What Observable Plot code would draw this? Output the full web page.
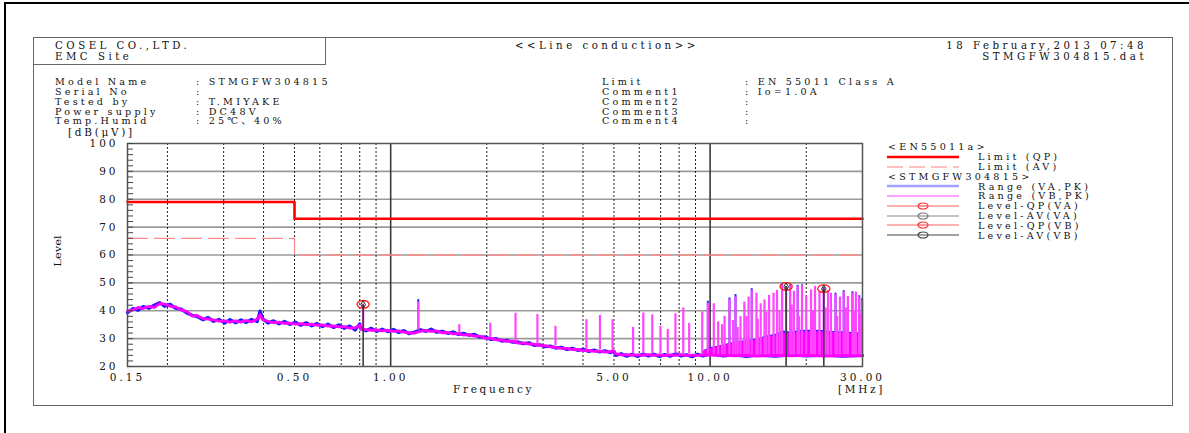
<!DOCTYPE html>
<html><head><meta charset="utf-8">
<script src="https://cdn.jsdelivr.net/npm/d3@7"></script>
<script src="https://cdn.jsdelivr.net/npm/@observablehq/plot@0.6"></script>
<style>
html,body{margin:0;padding:0;background:#fff;}
#page{position:relative;width:1189px;height:433px;overflow:hidden;font-family:"DejaVu Serif","Noto Sans CJK JP",serif;color:#111;}
#outer{position:absolute;left:4px;top:2px;width:1300px;height:600px;border:2px solid #000;}
#inner{position:absolute;left:33px;top:37px;width:1138px;height:367px;border:1px solid #666;}
#cobox{position:absolute;left:33px;top:37px;width:292px;height:27px;border-right:1px solid #666;border-bottom:1px solid #666;}
.t{position:absolute;white-space:pre;line-height:10px;font-size:10.5px;letter-spacing:2.7px;}
.h{font-size:10.2px;line-height:10px;letter-spacing:3.5px;}
.s{font-size:9.6px;line-height:9.4px;letter-spacing:3.2px;}
svg.plot{position:absolute;left:0;top:0;}
</style></head>
<body><div id="page">
<div id="outer"></div><div id="inner"></div><div id="cobox"></div>
<div class="t h" style="left:55px;top:40.5px">COSEL CO.,LTD.</div>
<div class="t h" style="left:55px;top:52px">EMC Site</div>
<div class="t h" style="left:515px;top:40.5px">&lt;&lt;Line conduction&gt;&gt;</div>
<div class="t h" style="right:42px;top:40.5px;text-align:right">18 February,2013 07:48</div>
<div class="t h" style="right:42px;top:52px;text-align:right">STMGFW304815.dat</div>
<div id="info"></div>
<div class="t" style="left:68px;top:127px">[dB(μV)]</div>
<div class="t" style="left:38px;top:246px;width:40px;text-align:center;letter-spacing:0;font-size:11.5px;transform:rotate(-90deg) scaleY(0.8)">Level</div>
<div class="t" style="left:453px;top:384px">Frequency</div>
<div class="t" style="left:838px;top:384px">[MHz]</div>
</div>
<script>
// ---------------- data ----------------
const freqs = [0.150,0.156,0.162,0.168,0.175,0.182,0.189,0.196,0.204,0.212,
  0.221,0.230,0.239,0.248,0.258,0.268,0.279,0.290,0.302,0.314,
  0.327,0.340,0.353,0.367,0.382,0.390,0.397,0.413,0.430,0.447,
  0.465,0.483,0.503,0.523,0.544,0.566,0.588,0.612,0.636,0.662,
  0.688,0.716,0.744,0.774,0.800,0.805,0.837,0.870,0.905,0.941,
  0.979,1.02,1.06,1.10,1.14,1.19,1.24,1.29,1.34,1.39,
  1.45,1.51,1.57,1.63,1.69,1.76,1.83,1.90,1.98,2.06,
  2.14,2.23,2.31,2.41,2.50,2.60,2.71,2.81,2.93,3.04,
  3.17,3.29,3.42,3.56,3.70,3.85,4.01,4.17,4.33,4.51,
  4.69,4.87,5.00,5.07,5.27,5.48,5.70,5.93,6.17,6.41,
  6.67,6.94,7.21,7.50,7.80,8.12,8.44,8.78,9.13,9.50,
  10.0,11.0,12.0,13.0,14.0,16.0,18.0,20.0,23.0,26.0,
  30.0];
const levelVA = [39.3,40.8,40.2,41.5,40.9,42.0,42.9,41.6,42.3,40.9,
  40.6,39.2,38.4,37.9,36.8,37.6,36.2,36.9,35.6,36.8,
  35.7,36.7,35.8,36.9,36.1,39.9,37.2,35.6,36.4,35.3,
  36.2,35.1,35.9,34.8,35.7,34.6,35.4,34.3,35.2,34.0,
  34.9,33.7,34.5,33.1,35.3,33.6,32.8,33.7,32.6,33.4,
  32.5,33.3,32.2,32.9,31.8,32.4,33.2,32.6,33.4,32.3,
  32.6,31.9,32.4,31.5,31.9,31.2,31.5,30.5,30.6,29.7,
  30.0,29.1,29.4,28.7,28.8,28.2,28.5,27.6,27.8,27.1,
  27.3,26.6,26.9,26.1,26.5,25.8,26.2,25.4,25.9,25.2,
  25.6,25.0,25.4,24.0,24.6,23.7,24.4,23.6,24.5,23.8,
  24.4,23.6,24.3,23.7,24.6,23.8,24.2,23.5,24.4,23.8,
  24.5,23.8,24.2,23.6,24.1,23.7,24.2,23.8,24.1,23.7,
  24.0];
const levelVB = [39.9,40.3,41.2,40.8,41.6,41.2,42.6,42.4,41.6,41.5,
  40.2,39.8,38.1,38.3,37.2,37.0,36.7,36.3,36.4,35.9,
  36.4,35.9,36.5,36.0,37.0,38.6,36.8,36.2,35.7,35.9,
  35.5,35.6,35.2,35.4,35.0,35.2,34.8,34.9,34.5,34.6,
  34.2,34.3,33.8,33.9,34.8,33.4,33.2,33.0,33.1,32.8,
  33.0,32.6,32.8,32.3,32.1,32.0,32.7,32.9,32.6,32.8,
  32.1,32.2,31.7,31.8,31.3,31.4,30.9,30.9,30.1,30.1,
  29.6,29.5,29.0,29.1,28.4,28.5,28.0,28.0,27.5,27.5,
  27.0,26.9,26.5,26.5,26.1,26.1,25.7,25.8,25.4,25.5,
  25.2,25.3,25.6,24.5,24.2,24.3,24.0,24.2,24.0,24.3,
  24.0,24.2,23.9,24.2,24.0,24.3,23.9,24.1,24.0,24.1,
  24.1,24.0,23.8,24.0,23.7,24.0,23.8,24.0,23.7,23.9,
  23.8];

// harmonic spikes of the VB (magenta) trace
const spikeFreq = [0.82,1.22,1.64,2.05,2.46,2.88,3.28,4.10,4.52,4.95,5.74,6.18,6.59,6.99,7.37,7.79,8.24,8.60,9.45,9.84,10.27,10.6,10.9,11.1,11.5,11.8,12.01,12.2,12.45,12.8,13.0,13.2,13.5,13.97,14.1,14.4,14.8,15.0,15.3,15.8,16.2,16.5,16.8,17.3,17.8,18.0,18.3,18.8,19.0,19.4,20.0,20.7,21.0,21.3,22.0,22.7,23.0,23.4,23.9,24.7,25.0,25.5,26.2,26.6,27.0,27.9,28.2,28.6,29.3,29.6,29.9];
const spikeTop  = [42.0,43.0,35.0,35.5,39.1,38.6,34.4,36.8,38.3,36.8,34.0,39.2,38.5,34.4,33.3,38.9,41.0,35.5,39.6,42.7,42.5,36.0,35.0,38.0,44.0,36.5,45.0,34.0,37.9,43.1,38.0,44.9,47.3,46.3,37.0,42.5,43.9,39.5,45.5,46.3,47.3,40.0,49.0,48.7,49.0,42.0,47.0,48.7,38.0,49.0,45.5,47.5,40.0,48.7,46.7,47.9,41.0,47.3,46.3,45.8,38.0,44.9,46.7,41.0,45.1,46.3,40.0,46.7,44.9,39.0,43.7];
const spikeBase = [33.5,33.0,32.0,30.0,29.0,28.0,27.5,26.0,26.0,25.5,24.5,24.5,24.5,24.5,24.5,24.5,24.5,24.5,24.5,24.5,24.0,24.0,24.0,24.0,24.0,24.0,24.0,24.0,24.0,24.0,24.0,24.0,24.0,24.0,24.0,24.0,24.0,24.0,24.0,24.0,24.0,24.0,24.0,24.0,24.0,24.0,24.0,24.0,24.0,24.0,24.0,24.0,24.0,24.0,24.0,24.0,24.0,24.0,24.0,24.0,24.0,24.0,24.0,24.0,24.0,24.0,24.0,24.0,24.0,24.0,24.0];
// spike tips of the VA (blue) trace that stand above the magenta ones
const spikeVAFreq = [1.22,9.84,11.5,12.01,13.5,16.8,17.8,18.8,19.4,22.7,24.7,26.2,27.9,29.3,29.9];
const spikeVATop  = [44.0,43.4,44.6,45.8,47.9,49.4,49.3,49.1,49.3,48.3,46.3,47.2,46.8,45.4,44.3];
const spikeVABase = [33.0,24.0,24.0,24.0,24.0,24.0,24.0,24.0,24.0,24.0,24.0,24.0,24.0,24.0,24.0];

// dense noise band above 10 MHz
const bandFreq   = [9.5,10,11,12,13,14,15,16,17,18,19,20,22,24,26,28,30];
const bandLow    = [24.0,23.6,23.5,23.6,23.5,23.6,23.5,23.6,23.5,23.6,23.5,23.6,23.5,23.6,23.5,23.6,23.5];
const bandHighVB = [25.5,26.5,27.5,28.5,29.0,29.5,30.5,31.0,32.0,31.8,32.3,32.5,32.5,32.2,32.0,31.8,31.5];
const bandHighVA = [25.6,26.7,27.7,28.8,29.3,29.8,30.9,31.5,32.7,32.3,32.9,33.0,33.0,32.6,32.5,32.2,31.9];

// limits EN 55011 Class A
const limitFreq = [0.15, 0.5, 30];
const limitQP   = [79, 73, 73];
const limitAV   = [66, 60, 60];

// measured level markers
const markerFreq = [0.82, 17.3, 22.7];
const markerQP   = [42.3, 48.7, 47.9];
const markerAV   = [42.2, 48.6, 47.8];

// axes / grid
const yDomain = [20, 100];
const yTicks  = [20,30,40,50,60,70,80,90,100];
const yMinor  = [20,22,24,26,28,30,32,34,36,38,40,42,44,46,48,50,52,54,56,58,60,62,64,66,68,70,72,74,76,78,80,82,84,86,88,90,92,94,96,98,100];
const xDomain = [0.15, 30];
const xTicks  = [0.15, 0.5, 1, 5, 10, 30];
const xTickLabels = ["0.15","0.50","1.00","5.00","10.00","30.00"];
const gridH      = [30,40,50,60,70,80,90];
const gridDotted = [0.2,0.3,0.4,0.5,0.6,0.7,0.8,0.9,2,3,4,5,6,7,8,9,20];
const gridSolid  = [1, 10];

// header info
const infoLeftLabels  = ["Model Name","Serial No","Tested by","Power supply","Temp.Humid"];
const infoLeftValues  = ["STMGFW304815","","T.MIYAKE","DC48V","25℃、40%"];
const infoRightLabels = ["Limit","Comment1","Comment2","Comment3","Comment4"];
const infoRightValues = ["EN 55011 Class A","Io=1.0A","","",""];

// legend
const legendItems = [
  {label:"<EN55011a>", head:true},
  {label:"Limit (QP)", color:"#ff0000", width:2.6},
  {label:"Limit (AV)", color:"#ff8080", width:1.2, dash:"16,6"},
  {label:"<STMGFW304815>", head:true},
  {label:"Range (VA,PK)", color:"#a0a0ff", width:2.4},
  {label:"Range (VB,PK)", color:"#ff80ff", width:1.4},
  {label:"Level-QP(VA)", color:"#ff6060", width:1.2, marker:"#ff3030"},
  {label:"Level-AV(VA)", color:"#8a8a8a", width:1.2, marker:"#777"},
  {label:"Level-QP(VB)", color:"#ff6060", width:1.2, marker:"#ff3030"},
  {label:"Level-AV(VB)", color:"#444", width:1.2, marker:"#444"}
];

// ---------------- build ----------------
const page = document.getElementById("page");
const info = document.getElementById("info");
const infoTop = 77.2, infoStep = 9.8;
infoLeftLabels.forEach((l,i)=>{
  const top = infoTop + i * infoStep;
  info.insertAdjacentHTML("beforeend",
   `<div class="t s" style="left:55px;top:${top}px">${l}</div>`+
   `<div class="t s" style="left:196px;top:${top}px">: ${infoLeftValues[i]}</div>`+
   `<div class="t s" style="left:602px;top:${top}px">${infoRightLabels[i]}</div>`+
   `<div class="t s" style="left:745px;top:${top}px">: ${infoRightValues[i]}</div>`);
});

const rowsVA = freqs.map((f,i)=>({f, v: levelVA[i]}));
const rowsVB = freqs.map((f,i)=>({f, v: levelVB[i]}));
const spikes = spikeFreq.map((f,i)=>({f, top: spikeTop[i], base: spikeBase[i]}));
const spikesVA = spikeVAFreq.map((f,i)=>({f, top: spikeVATop[i], base: spikeVABase[i]}));
const band = bandFreq.map((f,i)=>({f, low: bandLow[i], hiB: bandHighVB[i], hiA: bandHighVA[i]}));
const limits = limitFreq.map((f,i)=>({f, qp: limitQP[i], av: limitAV[i]}));
const markers = markerFreq.map((f,i)=>({f, qp: markerQP[i], av: markerAV[i]}));
const xLabels = xTicks.map((f,i)=>({f, label: xTickLabels[i]}));

const ellipse = {
  draw(ctx, size) {
    const r = Math.sqrt(size / Math.PI), rx = r * 1.35, ry = r * 0.85, k = 0.5523;
    ctx.moveTo(rx, 0);
    ctx.bezierCurveTo(rx, ry*k, rx*k, ry, 0, ry);
    ctx.bezierCurveTo(-rx*k, ry, -rx, ry*k, -rx, 0);
    ctx.bezierCurveTo(-rx, -ry*k, -rx*k, -ry, 0, -ry);
    ctx.bezierCurveTo(rx*k, -ry, rx, -ry*k, rx, 0);
    ctx.closePath();
  }
};

const chart = Plot.plot({
  width: 1189, height: 433,
  marginLeft: 127, marginRight: 327, marginTop: 143, marginBottom: 67,
  x: {type: "log", domain: xDomain, axis: null},
  y: {domain: yDomain},
  style: {background: "transparent", fontFamily: "DejaVu Serif", fontSize: "10.5px", color: "#111", letterSpacing: "3px"},
  marks: [
    Plot.ruleY(gridH, {stroke: "#9a9a9a", strokeWidth: 1.6}),
    Plot.ruleX(gridDotted, {stroke: "#222", strokeWidth: 1, strokeDasharray: "2,2"}),
    Plot.ruleX(gridSolid, {stroke: "#3a3a3a", strokeWidth: 1.6}),
    Plot.line(limits, {x: "f", y: "av", curve: "step-after", stroke: "#ff8c8c", strokeWidth: 1.3, strokeDasharray: "20,7"}),
    Plot.line(limits, {x: "f", y: "qp", curve: "step-after", stroke: "#ff0000", strokeWidth: 2.6}),
    Plot.areaY(band, {x: "f", y1: "low", y2: "hiA", fill: "#2020ff"}),
    Plot.ruleX(spikesVA, {x: "f", y1: "base", y2: "top", stroke: "#2a2aff", strokeWidth: 2}),
    Plot.line(rowsVA, {x: "f", y: "v", stroke: "#1a1aff", strokeWidth: 3.2}),
    Plot.areaY(band, {x: "f", y1: "low", y2: "hiB", fill: "#ff00ff"}),
    Plot.ruleX(spikes, {x: "f", y1: "base", y2: "top", stroke: "#ff45ff", strokeWidth: 2.2}),
    Plot.line(rowsVB, {x: "f", y: "v", stroke: "#ff00ff", strokeWidth: 2.8}),
    Plot.ruleX(markers, {x: "f", y1: yDomain[0], y2: "qp", stroke: "#333", strokeWidth: 1.5}),
    Plot.dot(markers, {x: "f", y: "qp", symbol: ellipse, r: 4.5, stroke: "#ff2020", strokeWidth: 1.4, fill: "none"}),
    Plot.dot(markers, {x: "f", y: "av", symbol: "diamond", r: 2.4, stroke: "#222", strokeWidth: 1}),
    Plot.frame({stroke: "#555", strokeWidth: 1.5}),
    Plot.axisY(yTicks, {tickSize: 0, tickPadding: 9, label: null}),
    Plot.axisY(yMinor, {tickSize: 6, dx: 6, tickFormat: () => "", label: null, stroke: "#444"}),
    Plot.text(xLabels, {x: "f", frameAnchor: "bottom", dy: 14, text: "label", fill: "#111"})
  ]
});
page.appendChild(chart);

// legend
const legendTop = 142, rowH = 9.8;
legendItems.forEach((it, i) => {
  const cy = legendTop + 5 + i * rowH;
  if (it.head) {
    page.insertAdjacentHTML("beforeend", `<div class="t s" style="left:888px;top:${cy-4.7}px">${it.label.replace("<","&lt;").replace(">","&gt;")}</div>`);
  } else {
    let sw = `<svg width="72" height="8" style="position:absolute;left:887px;top:${cy-4}px;overflow:visible">` +
      `<line x1="0" x2="72" y1="4" y2="4" stroke="${it.color}" stroke-width="${it.width}" ${it.dash ? `stroke-dasharray="${it.dash}"` : ""}/>`;
    if (it.marker) sw += `<ellipse cx="36" cy="4" rx="5" ry="3" fill="white" stroke="${it.marker}" stroke-width="1.2"/><line x1="31" x2="41" y1="4" y2="4" stroke="${it.marker}" stroke-width="1"/>`;
    sw += `</svg>`;
    page.insertAdjacentHTML("beforeend", sw + `<div class="t s" style="left:978px;top:${cy-4.7}px">${it.label}</div>`);
  }
});
</script>
</body></html>
